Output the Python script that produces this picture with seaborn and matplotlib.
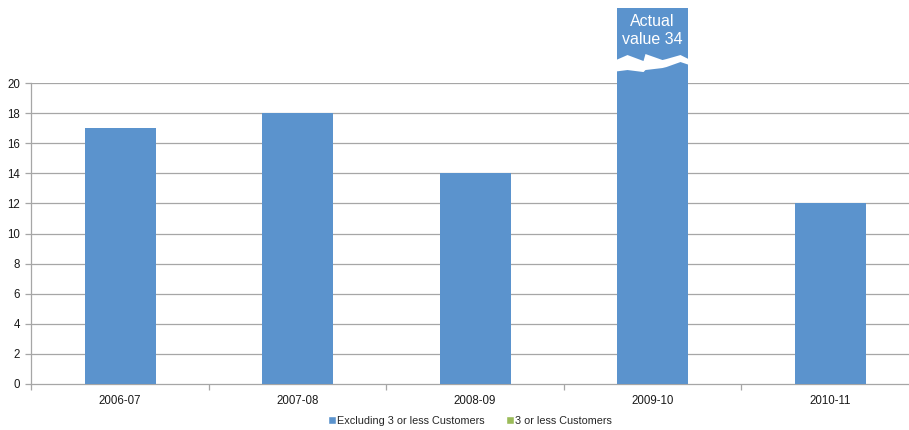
import matplotlib
matplotlib.use("Agg")
import matplotlib.pyplot as plt
from matplotlib.patches import Patch, Polygon
import numpy as np
import pandas as pd
import seaborn as sns

# Data
years = ["2006-07", "2007-08", "2008-09", "2009-10", "2010-11"]
excluding_small = [17, 18, 14, 34, 12]
small_customers = [0, 0, 0, 0, 0]
y_ticks = list(range(0, 21, 2))

BLUE = "#5B93CD"
GREEN = "#9BBB59"
GRID = "#A6A6A6"
DISPLAY_CAP = 25      # bars above the axis are drawn truncated at this height
BREAK_AT = 21.26      # where the jagged break is drawn on truncated bars

sns.set_theme(style="white")
plt.rcParams["font.family"] = ["Liberation Sans", "DejaVu Sans"]

fig = plt.figure(figsize=(9.09, 4.30), dpi=100)
ax = fig.add_axes([31.25 / 909, 46 / 430, 887.5 / 909, (384 - 83) / 430])

shown = [min(v, DISPLAY_CAP) for v in excluding_small]
df = pd.DataFrame({"year": years, "shown": shown, "small": small_customers})

sns.barplot(data=df, x="year", y="shown", color=BLUE, width=0.4,
            saturation=1, linewidth=0, ax=ax, zorder=3)
for p in ax.patches:
    p.set_clip_on(False)

ax.set_ylim(0, 20)
ax.set_xlim(-0.5, len(years) - 0.5)
ax.set_yticks(y_ticks)
ax.set_xlabel("")
ax.set_ylabel("")

# Horizontal gridlines
for t in y_ticks[1:]:
    ax.axhline(t, color=GRID, lw=0.9, zorder=1)

for s in ["top", "right"]:
    ax.spines[s].set_visible(False)
for s in ["left", "bottom"]:
    ax.spines[s].set_color(GRID)
    ax.spines[s].set_linewidth(0.9)

ax.tick_params(axis="y", which="major", length=4, color=GRID, width=0.9,
               labelsize=8.3, pad=4, left=True, labelcolor="#1a1a1a")
ax.set_xticks(np.arange(-0.5, len(years), 1.0), minor=True)
ax.tick_params(axis="x", which="minor", length=4, color=GRID, width=0.9,
               bottom=True, direction="out")
ax.tick_params(axis="x", which="major", length=0, labelsize=8.3, pad=8,
               labelcolor="#1a1a1a")

# Broken bars for values beyond the displayed range.
# Break outline in pixel offsets from the bar centre / break line (y down).
x_px = 177.5           # pixels per category on the x axis
y_px = 15.05           # pixels per unit on the y axis
top_edge = [(-41, -2), (-25, -9), (-9, -3), (-7, -10), (10, -4),
            (14, -5), (28, -9), (40, -3)]
bottom_edge = [(40, 2), (28, -2), (14, 3), (10, 4), (-7, 6),
               (-9, 8), (-25, 6), (-41, 8)]
for i, v in enumerate(excluding_small):
    if v > DISPLAY_CAP:
        pts = [(i + dx / x_px, BREAK_AT - dy / y_px) for dx, dy in top_edge + bottom_edge]
        ax.add_patch(Polygon(pts, closed=True, facecolor="white",
                             edgecolor="none", zorder=4, clip_on=False))
        ax.text(i, DISPLAY_CAP - 0.4, f"Actual\nvalue {v}", ha="center", va="top",
                color="white", fontsize=11.5, linespacing=1.3, zorder=5,
                clip_on=False)

# Legend
handles = [Patch(facecolor=BLUE, label="Excluding 3 or less Customers"),
           Patch(facecolor=GREEN, label="3 or less Customers")]
fig.legend(handles=handles, loc="center", bbox_to_anchor=(470 / 909, 1 - 421 / 430),
           ncol=2, frameon=False, fontsize=7.8, handlelength=0.75,
           handleheight=0.75, handletextpad=0.15, columnspacing=1.9)

fig.savefig("out.png", dpi=100)
